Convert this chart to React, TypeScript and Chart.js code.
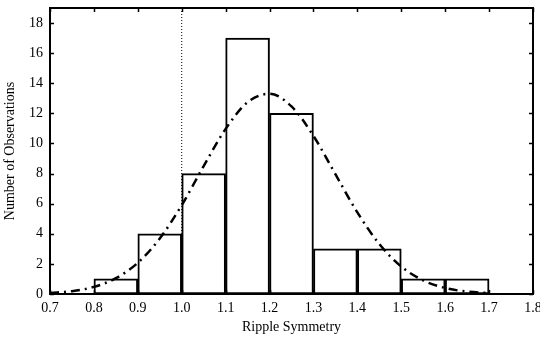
import React, { useEffect, useRef } from "react";
import { Chart, registerables } from "chart.js";
Chart.register(...registerables);

// Histogram bins (bin centers) and counts
const binCenters = [0.85, 0.95, 1.05, 1.15, 1.25, 1.35, 1.45, 1.55, 1.65];
const binCounts = [1, 4, 8, 17, 12, 3, 3, 1, 1];

// Fitted normal curve
const curveX = [0.7, 0.75, 0.8, 0.85, 0.9, 0.95, 1.0, 1.05, 1.1, 1.15, 1.2, 1.25, 1.3, 1.35, 1.4, 1.45, 1.5, 1.55, 1.6, 1.65, 1.7];
const curveY = [0.07, 0.19, 0.47, 1.05, 2.07, 3.69, 5.9, 8.5, 10.97, 12.74, 13.3, 12.46, 10.5, 7.96, 5.42, 3.32, 1.82, 0.9, 0.4, 0.16, 0.06];

// Vertical dotted reference line
const refX = [1.0, 1.0];
const refY = [0, 19];

const xTicks = [0.7, 0.8, 0.9, 1.0, 1.1, 1.2, 1.3, 1.4, 1.5, 1.6, 1.7, 1.8];
const yTicks = [0, 2, 4, 6, 8, 10, 12, 14, 16, 18];

const FONT = "'Liberation Serif', 'Times New Roman', serif";

const framePlugin = {
  id: "frame",
  afterDatasetsDraw(chart: any) {
    const { ctx, chartArea: a, scales } = chart;
    ctx.save();
    ctx.strokeStyle = "#000";
    ctx.lineWidth = 1.5;
    const L = 4;
    ctx.beginPath();
    xTicks.forEach((v) => {
      const px = Math.round(scales.x.getPixelForValue(v)) + 0.5;
      ctx.moveTo(px, a.bottom);
      ctx.lineTo(px, a.bottom - L);
      ctx.moveTo(px, a.top);
      ctx.lineTo(px, a.top + L);
    });
    yTicks.forEach((v) => {
      const py = Math.round(scales.y.getPixelForValue(v)) + 0.5;
      ctx.moveTo(a.left, py);
      ctx.lineTo(a.left + L, py);
      ctx.moveTo(a.right, py);
      ctx.lineTo(a.right - L, py);
    });
    ctx.stroke();
    ctx.lineWidth = 2;
    ctx.strokeRect(a.left, a.top, a.right - a.left, a.bottom - a.top);
    ctx.restore();
  },
};

export default function App() {
  const ref = useRef<HTMLCanvasElement>(null);
  useEffect(() => {
    document.body.style.margin = "0";
    const chart = new Chart(ref.current!, {
      type: "bar",
      data: {
        datasets: [
          {
            type: "line",
            data: refX.map((x, i) => ({ x, y: refY[i] })),
            borderColor: "#000",
            borderWidth: 1,
            borderDash: [1, 2],
            pointRadius: 0,
            order: 3,
          } as any,
          {
            type: "bar",
            data: binCenters.map((x, i) => ({ x, y: binCounts[i] })),
            backgroundColor: "#fff",
            borderColor: "#000",
            borderWidth: 2,
            borderSkipped: false,
            barPercentage: 1,
            categoryPercentage: 1,
            order: 2,
          },
          {
            type: "line",
            data: curveX.map((x, i) => ({ x, y: curveY[i] })),
            borderColor: "#000",
            borderWidth: 2.5,
            borderDash: [9, 5, 2, 5],
            pointRadius: 0,
            cubicInterpolationMode: "monotone",
            order: 1,
          } as any,
        ],
      },
      options: {
        animation: false,
        responsive: false,
        maintainAspectRatio: false,
        layout: { padding: { top: 8, right: 7, left: 0, bottom: 0 } },
        plugins: { legend: { display: false }, tooltip: { enabled: false } },
        scales: {
          x: {
            type: "linear",
            min: 0.7,
            max: 1.8,
            offset: false,
            grid: { display: false, offset: false, drawTicks: false },
            border: { display: false },
            afterBuildTicks: (s: any) => {
              s.ticks = xTicks.map((v) => ({ value: v }));
            },
            ticks: {
              autoSkip: false,
              maxRotation: 0,
              padding: 6,
              color: "#000",
              font: { family: FONT, size: 14 },
              callback: (v: any) => Number(v).toFixed(1),
            },
            title: {
              display: true,
              text: "Ripple Symmetry",
              color: "#000",
              font: { family: FONT, size: 14 },
              padding: { top: 0, bottom: 4 },
            },
            afterFit: (s: any) => {
              s.height = 46;
              s.paddingLeft = 0;
              s.paddingRight = 0;
            },
          },
          y: {
            min: 0,
            max: 19,
            grid: { display: false, drawTicks: false },
            border: { display: false },
            afterBuildTicks: (s: any) => {
              s.ticks = yTicks.map((v) => ({ value: v }));
            },
            ticks: {
              autoSkip: false,
              padding: 7,
              color: "#000",
              font: { family: FONT, size: 14 },
            },
            title: {
              display: true,
              text: "Number of Observations",
              color: "#000",
              font: { family: FONT, size: 14 },
              padding: { top: 2, bottom: 0 },
            },
            afterFit: (s: any) => {
              s.width = 50;
              s.paddingTop = 0;
              s.paddingBottom = 0;
            },
          },
        },
      },
      plugins: [framePlugin],
    });
    return () => chart.destroy();
  }, []);
  return (
    <div style={{ width: 540, height: 340, background: "#fff" }}>
      <canvas ref={ref} width={540} height={340} />
    </div>
  );
}
